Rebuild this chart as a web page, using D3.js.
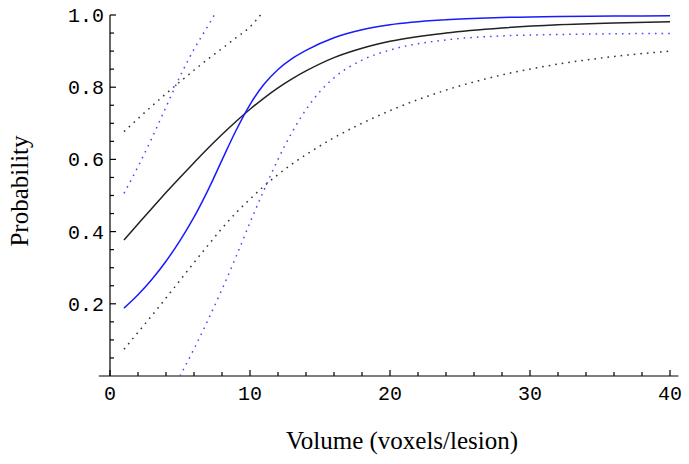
<!DOCTYPE html>
<html>
<head>
<meta charset="utf-8">
<script src="https://cdn.jsdelivr.net/npm/d3@7"></script>
<style>
  body { margin: 0; background: #fff; }
  svg { display: block; }
</style>
</head>
<body>
<svg width="689" height="464"></svg>
<script>
// probability curves vs lesion volume

const xFull = [1, 2, 3, 4, 5, 6, 7, 8, 9, 10, 11, 12, 13, 14, 16, 18, 20, 24, 28, 32, 36, 40];
const fitAll = [0.377, 0.421, 0.465, 0.508, 0.55, 0.591, 0.631, 0.669, 0.705, 0.739, 0.77, 0.798,
  0.823, 0.845, 0.882, 0.908, 0.927, 0.95, 0.964, 0.973, 0.978, 0.981];
const fitBlue = [0.188, 0.225, 0.268, 0.318, 0.375, 0.44, 0.515, 0.598, 0.68, 0.752, 0.808, 0.849,
  0.879, 0.902, 0.937, 0.959, 0.973, 0.987, 0.993, 0.996, 0.997, 0.998];
const allLow = [0.074, 0.121, 0.168, 0.216, 0.265, 0.314, 0.362, 0.409, 0.452, 0.49, 0.526, 0.558,
  0.587, 0.613, 0.66, 0.7, 0.735, 0.792, 0.834, 0.864, 0.885, 0.9];

const xAllHigh = [1, 2, 3, 4, 5, 6, 7, 8, 9, 10, 10.75];
const allHigh = [0.677, 0.713, 0.748, 0.782, 0.815, 0.847, 0.878, 0.907, 0.937, 0.967, 1.0];

const xBlueHigh = [1, 2, 3, 4, 5, 6, 7, 7.45];
const blueHigh = [0.506, 0.58, 0.66, 0.745, 0.83, 0.905, 0.97, 1.0];

const xBlueLow = [5, 6, 7, 8, 9, 10, 11, 12, 13, 14, 15, 16, 18, 20, 24, 28, 32, 36, 40];
const blueLow = [0.0, 0.075, 0.155, 0.24, 0.33, 0.425, 0.515, 0.6, 0.675, 0.738, 0.788, 0.826,
  0.875, 0.903, 0.931, 0.942, 0.946, 0.948, 0.949];

const xTicks = [0, 10, 20, 30, 40];
const yTicks = [0.2, 0.4, 0.6, 0.8, 1.0];

const svg = d3.select("svg");

const x = d3.scaleLinear().domain([0, 40]).range([110, 670]);
const y = d3.scaleLinear().domain([0, 1]).range([376, 15]);

const zip = (xs, ys) => xs.map((v, i) => [v, ys[i]]);

const line = d3
  .line()
  .x((d) => x(d[0]))
  .y((d) => y(d[1]))
  .curve(d3.curveMonotoneX);

// axes
const axes = svg.append("g").attr("stroke", "#000").attr("stroke-width", 1.2);
axes
  .append("line")
  .attr("x1", x(-0.8))
  .attr("x2", x(40.6))
  .attr("y1", y(0))
  .attr("y2", y(0));
axes
  .append("line")
  .attr("x1", x(0))
  .attr("x2", x(0))
  .attr("y1", y(0))
  .attr("y2", y(1));

d3.range(0, 41, 2).forEach((v) => {
  const major = v % 10 === 0;
  axes
    .append("line")
    .attr("x1", x(v))
    .attr("x2", x(v))
    .attr("y1", y(0))
    .attr("y2", y(0) - (major ? 6 : 4));
});

d3.range(1, 21).forEach((i) => {
  const v = i * 0.05;
  const major = i % 4 === 0;
  axes
    .append("line")
    .attr("x1", x(0))
    .attr("x2", x(0) + (major ? 6 : 4))
    .attr("y1", y(v))
    .attr("y2", y(v));
});

svg
  .append("g")
  .selectAll("text")
  .data(xTicks)
  .enter()
  .append("text")
  .attr("x", (d) => x(d))
  .attr("y", 400)
  .attr("text-anchor", "middle")
  .attr("font-family", "Liberation Mono, Courier New, monospace")
  .attr("font-size", 20)
  .text((d) => d);

svg
  .append("g")
  .selectAll("text")
  .data(yTicks)
  .enter()
  .append("text")
  .attr("x", 104)
  .attr("y", (d) => y(d) + 7)
  .attr("text-anchor", "end")
  .attr("font-family", "Liberation Mono, Courier New, monospace")
  .attr("font-size", 20)
  .text((d) => d.toFixed(1));

// curves
const series = [
  { pts: zip(xFull, allLow), color: "#333", dash: "1.6 5" },
  { pts: zip(xAllHigh, allHigh), color: "#333", dash: "1.6 5" },
  { pts: zip(xBlueLow, blueLow), color: "#4a4aff", dash: "1.6 5" },
  { pts: zip(xBlueHigh, blueHigh), color: "#4a4aff", dash: "1.6 5" },
  { pts: zip(xFull, fitAll), color: "#222", dash: null },
  { pts: zip(xFull, fitBlue), color: "#1a1aff", dash: null },
];

svg
  .append("g")
  .selectAll("path")
  .data(series)
  .enter()
  .append("path")
  .attr("d", (d) => line(d.pts))
  .attr("fill", "none")
  .attr("stroke", (d) => d.color)
  .attr("stroke-width", 1.5)
  .attr("stroke-dasharray", (d) => d.dash);

// axis titles
svg
  .append("text")
  .attr("transform", "translate(28,191) rotate(-90)")
  .attr("text-anchor", "middle")
  .attr("font-family", "Liberation Serif, Times New Roman, serif")
  .attr("font-size", 25)
  .text("Probability");

svg
  .append("text")
  .attr("x", 402)
  .attr("y", 449)
  .attr("text-anchor", "middle")
  .attr("font-family", "Liberation Serif, Times New Roman, serif")
  .attr("font-size", 25)
  .text("Volume (voxels/lesion)");
</script>
</body>
</html>
